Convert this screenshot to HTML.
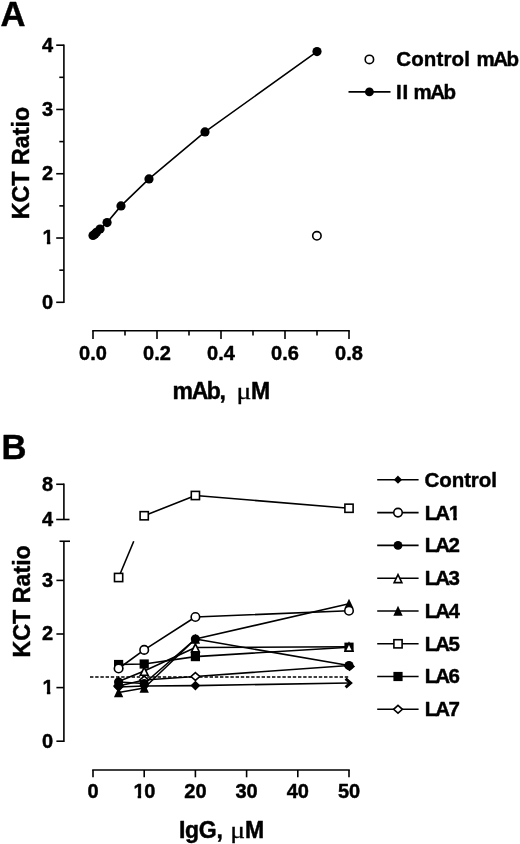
<!DOCTYPE html>
<html><head><meta charset="utf-8"><title>Figure</title>
<style>html,body{margin:0;padding:0;background:#fff}svg{display:block}</style></head>
<body><svg width="520" height="844" viewBox="0 0 520 844">
<rect width="520" height="844" fill="#fff"/>
<text x="0.6" y="25.6" font-size="34.6" text-anchor="start" font-family="Liberation Sans, sans-serif" font-weight="bold" stroke="#000" stroke-width="0.45" stroke-linejoin="round" >A</text>
<line x1="63.90" y1="44.38" x2="63.90" y2="303.10" stroke="#000" stroke-width="1.6" />
<line x1="56.20" y1="302.30" x2="63.90" y2="302.30" stroke="#000" stroke-width="1.6" />
<text x="53.2" y="308.7" font-size="20" text-anchor="end" font-family="Liberation Sans, sans-serif" font-weight="bold" stroke="#000" stroke-width="0.45" stroke-linejoin="round" >0</text>
<line x1="56.20" y1="238.02" x2="63.90" y2="238.02" stroke="#000" stroke-width="1.6" />
<clipPath id="c1"><polygon points="40.58,224.42 56.58,224.42 56.58,241.04 50.33,241.04 50.33,246.42 46.89,246.42 46.89,241.04 40.58,241.04"/></clipPath>
<text x="42.58" y="244.42" font-size="20" font-family="Liberation Sans, sans-serif" font-weight="bold" stroke="#000" stroke-width="0.45" stroke-linejoin="round" clip-path="url(#c1)" >1</text>
<line x1="56.20" y1="173.74" x2="63.90" y2="173.74" stroke="#000" stroke-width="1.6" />
<text x="53.2" y="180.14000000000001" font-size="20" text-anchor="end" font-family="Liberation Sans, sans-serif" font-weight="bold" stroke="#000" stroke-width="0.45" stroke-linejoin="round" >2</text>
<line x1="56.20" y1="109.46" x2="63.90" y2="109.46" stroke="#000" stroke-width="1.6" />
<text x="53.2" y="115.86000000000001" font-size="20" text-anchor="end" font-family="Liberation Sans, sans-serif" font-weight="bold" stroke="#000" stroke-width="0.45" stroke-linejoin="round" >3</text>
<line x1="56.20" y1="45.18" x2="63.90" y2="45.18" stroke="#000" stroke-width="1.6" />
<text x="53.2" y="51.580000000000005" font-size="20" text-anchor="end" font-family="Liberation Sans, sans-serif" font-weight="bold" stroke="#000" stroke-width="0.45" stroke-linejoin="round" >4</text>
<line x1="59.30" y1="270.16" x2="63.90" y2="270.16" stroke="#000" stroke-width="1.6" />
<line x1="59.30" y1="205.88" x2="63.90" y2="205.88" stroke="#000" stroke-width="1.6" />
<line x1="59.30" y1="141.60" x2="63.90" y2="141.60" stroke="#000" stroke-width="1.6" />
<line x1="59.30" y1="77.32" x2="63.90" y2="77.32" stroke="#000" stroke-width="1.6" />
<line x1="92.20" y1="330.80" x2="349.80" y2="330.80" stroke="#000" stroke-width="1.6" />
<line x1="93.00" y1="330.80" x2="93.00" y2="339.00" stroke="#000" stroke-width="1.6" />
<text x="93.0" y="360" font-size="20" text-anchor="middle" font-family="Liberation Sans, sans-serif" font-weight="bold" stroke="#000" stroke-width="0.45" stroke-linejoin="round" >0.0</text>
<line x1="125.00" y1="330.80" x2="125.00" y2="335.60" stroke="#000" stroke-width="1.6" />
<line x1="157.00" y1="330.80" x2="157.00" y2="339.00" stroke="#000" stroke-width="1.6" />
<text x="157.0" y="360" font-size="20" text-anchor="middle" font-family="Liberation Sans, sans-serif" font-weight="bold" stroke="#000" stroke-width="0.45" stroke-linejoin="round" >0.2</text>
<line x1="189.00" y1="330.80" x2="189.00" y2="335.60" stroke="#000" stroke-width="1.6" />
<line x1="221.00" y1="330.80" x2="221.00" y2="339.00" stroke="#000" stroke-width="1.6" />
<text x="221.0" y="360" font-size="20" text-anchor="middle" font-family="Liberation Sans, sans-serif" font-weight="bold" stroke="#000" stroke-width="0.45" stroke-linejoin="round" >0.4</text>
<line x1="253.00" y1="330.80" x2="253.00" y2="335.60" stroke="#000" stroke-width="1.6" />
<line x1="285.00" y1="330.80" x2="285.00" y2="339.00" stroke="#000" stroke-width="1.6" />
<text x="285.0" y="360" font-size="20" text-anchor="middle" font-family="Liberation Sans, sans-serif" font-weight="bold" stroke="#000" stroke-width="0.45" stroke-linejoin="round" >0.6</text>
<line x1="317.00" y1="330.80" x2="317.00" y2="335.60" stroke="#000" stroke-width="1.6" />
<line x1="349.00" y1="330.80" x2="349.00" y2="339.00" stroke="#000" stroke-width="1.6" />
<text x="349.0" y="360" font-size="20" text-anchor="middle" font-family="Liberation Sans, sans-serif" font-weight="bold" stroke="#000" stroke-width="0.45" stroke-linejoin="round" >0.8</text>
<text transform="translate(29.4,219.3) rotate(-90) scale(0.97,1)" font-size="24" font-family="Liberation Sans, sans-serif" font-weight="bold" stroke="#000" stroke-width="0.45" stroke-linejoin="round">KCT Ratio</text>
<text x="172.6" y="399" font-size="23" text-anchor="start" font-family="Liberation Sans, sans-serif" font-weight="bold" stroke="#000" stroke-width="0.45" stroke-linejoin="round" letter-spacing="-1.4">mAb,</text>
<text transform="translate(236.4,398.8) scale(1.2,1)" font-size="23" font-family="Liberation Serif, serif" stroke="#000" stroke-width="0.3">μ</text>
<text x="251" y="399" font-size="23" text-anchor="start" font-family="Liberation Sans, sans-serif" font-weight="bold" stroke="#000" stroke-width="0.45" stroke-linejoin="round" >M</text>
<polyline fill="none" stroke="#000" stroke-width="1.6" stroke-linejoin="round" points="93.00,235.45 94.76,234.16 96.52,232.23 100.04,229.02 107.08,222.59 121.00,205.88 149.00,178.88 205.00,131.96 317.00,51.61"/>
<circle cx="93.00" cy="235.45" r="4.60" fill="#000"/>
<circle cx="94.76" cy="234.16" r="4.60" fill="#000"/>
<circle cx="96.52" cy="232.23" r="4.60" fill="#000"/>
<circle cx="100.04" cy="229.02" r="4.60" fill="#000"/>
<circle cx="107.08" cy="222.59" r="4.60" fill="#000"/>
<circle cx="121.00" cy="205.88" r="4.60" fill="#000"/>
<circle cx="149.00" cy="178.88" r="4.60" fill="#000"/>
<circle cx="205.00" cy="131.96" r="4.60" fill="#000"/>
<circle cx="317.00" cy="51.61" r="4.60" fill="#000"/>
<circle cx="316.90" cy="235.80" r="4.20" fill="#fff" stroke="#000" stroke-width="1.6"/>
<circle cx="369.40" cy="59.40" r="4.20" fill="#fff" stroke="#000" stroke-width="1.6"/>
<text x="396.2" y="65.8" font-size="20.5" text-anchor="start" font-family="Liberation Sans, sans-serif" font-weight="bold" stroke="#000" stroke-width="0.45" stroke-linejoin="round" letter-spacing="0.15">Control</text>
<text x="476.6" y="65.8" font-size="20.5" text-anchor="start" font-family="Liberation Sans, sans-serif" font-weight="bold" stroke="#000" stroke-width="0.45" stroke-linejoin="round" letter-spacing="-1.6">mAb</text>
<line x1="348.50" y1="91.90" x2="390.50" y2="91.90" stroke="#000" stroke-width="1.6" />
<circle cx="369.40" cy="91.90" r="4.40" fill="#000"/>
<text x="396.0" y="98.8" font-size="20.5" text-anchor="start" font-family="Liberation Sans, sans-serif" font-weight="bold" stroke="#000" stroke-width="0.45" stroke-linejoin="round" letter-spacing="0.9">II</text>
<text x="413.6" y="98.8" font-size="20.5" text-anchor="start" font-family="Liberation Sans, sans-serif" font-weight="bold" stroke="#000" stroke-width="0.45" stroke-linejoin="round" letter-spacing="-1.6">mAb</text>
<text x="1.4" y="459.0" font-size="34.6" text-anchor="start" font-family="Liberation Sans, sans-serif" font-weight="bold" stroke="#000" stroke-width="0.45" stroke-linejoin="round" >B</text>
<line x1="63.90" y1="541.25" x2="63.90" y2="742.00" stroke="#000" stroke-width="1.6" />
<line x1="59.50" y1="541.25" x2="70.00" y2="541.25" stroke="#000" stroke-width="1.6" />
<line x1="56.40" y1="741.20" x2="63.90" y2="741.20" stroke="#000" stroke-width="1.6" />
<text x="53.2" y="747.6" font-size="20" text-anchor="end" font-family="Liberation Sans, sans-serif" font-weight="bold" stroke="#000" stroke-width="0.45" stroke-linejoin="round" >0</text>
<line x1="56.40" y1="687.60" x2="63.90" y2="687.60" stroke="#000" stroke-width="1.6" />
<clipPath id="c2"><polygon points="40.58,674.00 56.58,674.00 56.58,690.62 50.33,690.62 50.33,696.00 46.89,696.00 46.89,690.62 40.58,690.62"/></clipPath>
<text x="42.58" y="694.00" font-size="20" font-family="Liberation Sans, sans-serif" font-weight="bold" stroke="#000" stroke-width="0.45" stroke-linejoin="round" clip-path="url(#c2)" >1</text>
<line x1="56.40" y1="634.00" x2="63.90" y2="634.00" stroke="#000" stroke-width="1.6" />
<text x="53.2" y="640.4" font-size="20" text-anchor="end" font-family="Liberation Sans, sans-serif" font-weight="bold" stroke="#000" stroke-width="0.45" stroke-linejoin="round" >2</text>
<line x1="56.40" y1="580.40" x2="63.90" y2="580.40" stroke="#000" stroke-width="1.6" />
<text x="53.2" y="586.8000000000001" font-size="20" text-anchor="end" font-family="Liberation Sans, sans-serif" font-weight="bold" stroke="#000" stroke-width="0.45" stroke-linejoin="round" >3</text>
<line x1="63.90" y1="483.46" x2="63.90" y2="519.50" stroke="#000" stroke-width="1.6" />
<line x1="56.20" y1="484.26" x2="63.90" y2="484.26" stroke="#000" stroke-width="1.6" />
<line x1="56.20" y1="519.50" x2="69.50" y2="519.50" stroke="#000" stroke-width="1.6" />
<text x="53.2" y="490.65999999999997" font-size="20" text-anchor="end" font-family="Liberation Sans, sans-serif" font-weight="bold" stroke="#000" stroke-width="0.45" stroke-linejoin="round" >8</text>
<text x="53.2" y="525.9" font-size="20" text-anchor="end" font-family="Liberation Sans, sans-serif" font-weight="bold" stroke="#000" stroke-width="0.45" stroke-linejoin="round" >4</text>
<line x1="92.20" y1="770.00" x2="349.80" y2="770.00" stroke="#000" stroke-width="1.6" />
<line x1="93.00" y1="770.00" x2="93.00" y2="777.30" stroke="#000" stroke-width="1.6" />
<text x="93.0" y="798" font-size="20" text-anchor="middle" font-family="Liberation Sans, sans-serif" font-weight="bold" stroke="#000" stroke-width="0.45" stroke-linejoin="round" >0</text>
<line x1="144.20" y1="770.00" x2="144.20" y2="777.30" stroke="#000" stroke-width="1.6" />
<clipPath id="c3"><polygon points="131.38,778.00 147.38,778.00 147.38,794.62 141.13,794.62 141.13,800.00 137.69,800.00 137.69,794.62 131.38,794.62"/></clipPath>
<text x="133.38" y="798.00" font-size="20" font-family="Liberation Sans, sans-serif" font-weight="bold" stroke="#000" stroke-width="0.45" stroke-linejoin="round" clip-path="url(#c3)" >1</text>
<text x="144.29999999999998" y="798" font-size="20" text-anchor="start" font-family="Liberation Sans, sans-serif" font-weight="bold" stroke="#000" stroke-width="0.45" stroke-linejoin="round" >0</text>
<line x1="195.40" y1="770.00" x2="195.40" y2="777.30" stroke="#000" stroke-width="1.6" />
<text x="195.4" y="798" font-size="20" text-anchor="middle" font-family="Liberation Sans, sans-serif" font-weight="bold" stroke="#000" stroke-width="0.45" stroke-linejoin="round" >20</text>
<line x1="246.60" y1="770.00" x2="246.60" y2="777.30" stroke="#000" stroke-width="1.6" />
<text x="246.6" y="798" font-size="20" text-anchor="middle" font-family="Liberation Sans, sans-serif" font-weight="bold" stroke="#000" stroke-width="0.45" stroke-linejoin="round" >30</text>
<line x1="297.80" y1="770.00" x2="297.80" y2="777.30" stroke="#000" stroke-width="1.6" />
<text x="297.8" y="798" font-size="20" text-anchor="middle" font-family="Liberation Sans, sans-serif" font-weight="bold" stroke="#000" stroke-width="0.45" stroke-linejoin="round" >40</text>
<line x1="349.00" y1="770.00" x2="349.00" y2="777.30" stroke="#000" stroke-width="1.6" />
<text x="349.0" y="798" font-size="20" text-anchor="middle" font-family="Liberation Sans, sans-serif" font-weight="bold" stroke="#000" stroke-width="0.45" stroke-linejoin="round" >50</text>
<text transform="translate(29.6,657.6) rotate(-90) scale(0.97,1)" font-size="24" font-family="Liberation Sans, sans-serif" font-weight="bold" stroke="#000" stroke-width="0.45" stroke-linejoin="round">KCT Ratio</text>
<text x="179" y="837.8" font-size="23" text-anchor="start" font-family="Liberation Sans, sans-serif" font-weight="bold" stroke="#000" stroke-width="0.45" stroke-linejoin="round" letter-spacing="-0.3">IgG,</text>
<text transform="translate(230.2,837.6) scale(1.2,1)" font-size="23" font-family="Liberation Serif, serif" stroke="#000" stroke-width="0.3">μ</text>
<text x="245" y="837.8" font-size="23" text-anchor="start" font-family="Liberation Sans, sans-serif" font-weight="bold" stroke="#000" stroke-width="0.45" stroke-linejoin="round" >M</text>
<line x1="90.00" y1="677.00" x2="349.00" y2="677.00" stroke="#000" stroke-width="1.6" stroke-dasharray="3.4 1.8"/>
<polyline fill="none" stroke="#000" stroke-width="1.6" stroke-linejoin="round" points="118.60,686.00 144.20,680.00 195.40,676.50 349.00,665.50"/>
<polygon points="118.60,682.10 123.00,686.00 118.60,689.90 114.20,686.00" fill="#fff" stroke="#000" stroke-width="1.6" stroke-linejoin="miter"/>
<polygon points="144.20,676.10 148.60,680.00 144.20,683.90 139.80,680.00" fill="#fff" stroke="#000" stroke-width="1.6" stroke-linejoin="miter"/>
<polygon points="195.40,672.60 199.80,676.50 195.40,680.40 191.00,676.50" fill="#fff" stroke="#000" stroke-width="1.6" stroke-linejoin="miter"/>
<polygon points="349.50,662.50 353.90,666.40 349.50,670.30 345.10,666.40" fill="#fff" stroke="#000" stroke-width="1.6" stroke-linejoin="miter"/>
<polyline fill="none" stroke="#000" stroke-width="1.6" stroke-linejoin="round" points="118.60,664.50 144.20,664.00 195.40,656.60 349.00,647.20"/>
<rect x="114.00" y="659.90" width="9.20" height="9.20" fill="#000"/>
<rect x="139.60" y="659.40" width="9.20" height="9.20" fill="#000"/>
<rect x="190.80" y="652.00" width="9.20" height="9.20" fill="#000"/>
<rect x="344.40" y="642.60" width="9.20" height="9.20" fill="#000"/>
<line x1="118.60" y1="577.50" x2="133.75" y2="541.25" stroke="#000" stroke-width="1.6" />
<polyline fill="none" stroke="#000" stroke-width="1.6" stroke-linejoin="round" points="144.20,515.75 195.40,495.50 349.00,508.25"/>
<rect x="114.50" y="573.40" width="8.20" height="8.20" fill="#fff" stroke="#000" stroke-width="1.6"/>
<rect x="140.10" y="511.65" width="8.20" height="8.20" fill="#fff" stroke="#000" stroke-width="1.6"/>
<rect x="191.30" y="491.40" width="8.20" height="8.20" fill="#fff" stroke="#000" stroke-width="1.6"/>
<rect x="344.90" y="504.15" width="8.20" height="8.20" fill="#fff" stroke="#000" stroke-width="1.6"/>
<polyline fill="none" stroke="#000" stroke-width="1.6" stroke-linejoin="round" points="118.60,692.50 144.20,688.00 195.40,639.00 349.00,603.80"/>
<polygon points="118.60,689.20 122.00,696.40 115.20,696.40" fill="#000" stroke="#000" stroke-width="1.6" stroke-linejoin="miter"/>
<polygon points="144.20,684.70 147.60,691.90 140.80,691.90" fill="#000" stroke="#000" stroke-width="1.6" stroke-linejoin="miter"/>
<polygon points="195.40,635.70 198.80,642.90 192.00,642.90" fill="#000" stroke="#000" stroke-width="1.6" stroke-linejoin="miter"/>
<polygon points="349.00,600.50 352.40,607.70 345.60,607.70" fill="#000" stroke="#000" stroke-width="1.6" stroke-linejoin="miter"/>
<polyline fill="none" stroke="#000" stroke-width="1.6" stroke-linejoin="round" points="118.60,681.50 144.20,671.00 195.40,647.50 349.00,646.80"/>
<polygon points="118.60,677.80 122.50,685.80 114.70,685.80" fill="#fff" stroke="#000" stroke-width="1.6" stroke-linejoin="miter"/>
<polygon points="144.20,667.30 148.10,675.30 140.30,675.30" fill="#fff" stroke="#000" stroke-width="1.6" stroke-linejoin="miter"/>
<polygon points="195.40,643.80 199.30,651.80 191.50,651.80" fill="#fff" stroke="#000" stroke-width="1.6" stroke-linejoin="miter"/>
<polygon points="349.00,643.10 352.90,651.10 345.10,651.10" fill="#fff" stroke="#000" stroke-width="1.6" stroke-linejoin="miter"/>
<polyline fill="none" stroke="#000" stroke-width="1.6" stroke-linejoin="round" points="118.60,682.00 144.20,683.50 195.40,639.00 349.00,665.50"/>
<circle cx="118.60" cy="682.00" r="4.60" fill="#000"/>
<circle cx="144.20" cy="683.50" r="4.60" fill="#000"/>
<circle cx="195.40" cy="639.00" r="4.60" fill="#000"/>
<circle cx="349.00" cy="665.50" r="4.60" fill="#000"/>
<polyline fill="none" stroke="#000" stroke-width="1.6" stroke-linejoin="round" points="118.60,668.50 144.20,649.90 195.40,617.00 349.00,610.80"/>
<circle cx="118.60" cy="668.50" r="4.25" fill="#fff" stroke="#000" stroke-width="1.6"/>
<circle cx="144.20" cy="649.90" r="4.25" fill="#fff" stroke="#000" stroke-width="1.6"/>
<circle cx="195.40" cy="617.00" r="4.25" fill="#fff" stroke="#000" stroke-width="1.6"/>
<circle cx="349.00" cy="610.80" r="4.25" fill="#fff" stroke="#000" stroke-width="1.6"/>
<polyline fill="none" stroke="#000" stroke-width="1.6" stroke-linejoin="round" points="118.60,687.00 144.20,686.00 195.40,685.60 349.00,683.00"/>
<polygon points="118.60,683.20 122.40,687.00 118.60,690.80 114.80,687.00" fill="#000" stroke="#000" stroke-width="1.6" stroke-linejoin="miter"/>
<polygon points="144.20,682.20 148.00,686.00 144.20,689.80 140.40,686.00" fill="#000" stroke="#000" stroke-width="1.6" stroke-linejoin="miter"/>
<polygon points="195.40,681.80 199.20,685.60 195.40,689.40 191.60,685.60" fill="#000" stroke="#000" stroke-width="1.6" stroke-linejoin="miter"/>
<polyline fill="none" stroke="#000" stroke-width="3.0" stroke-linejoin="miter" points="345.60,678.60 350.60,683.00 345.60,687.40"/>
<line x1="377.20" y1="479.70" x2="418.60" y2="479.70" stroke="#000" stroke-width="1.6" />
<polygon points="398.00,476.70 401.00,479.70 398.00,482.70 395.00,479.70" fill="#000" stroke="#000" stroke-width="1.6" stroke-linejoin="miter"/>
<text x="424.6" y="486.59999999999997" font-size="20.5" text-anchor="start" font-family="Liberation Sans, sans-serif" font-weight="bold" stroke="#000" stroke-width="0.45" stroke-linejoin="round" letter-spacing="-0.1">Control</text>
<line x1="377.20" y1="512.60" x2="418.60" y2="512.60" stroke="#000" stroke-width="1.6" />
<circle cx="398.00" cy="512.60" r="4.25" fill="#fff" stroke="#000" stroke-width="1.6"/>
<text x="424.8" y="519.5" font-size="20.5" text-anchor="start" font-family="Liberation Sans, sans-serif" font-weight="bold" stroke="#000" stroke-width="0.45" stroke-linejoin="round" dx="0 -2.0">LA</text>
<clipPath id="c4"><polygon points="446.83,499.00 463.18,499.00 463.18,516.07 456.76,516.07 456.76,521.50 453.25,521.50 453.25,516.07 446.83,516.07"/></clipPath>
<text x="448.83" y="519.50" font-size="20.5" font-family="Liberation Sans, sans-serif" font-weight="bold" stroke="#000" stroke-width="0.45" stroke-linejoin="round" clip-path="url(#c4)" >1</text>
<line x1="377.20" y1="545.40" x2="418.60" y2="545.40" stroke="#000" stroke-width="1.6" />
<circle cx="398.00" cy="545.40" r="4.40" fill="#000"/>
<text x="424.8" y="552.3" font-size="20.5" text-anchor="start" font-family="Liberation Sans, sans-serif" font-weight="bold" stroke="#000" stroke-width="0.45" stroke-linejoin="round" dx="0 -2.0 -1.6">LA2</text>
<line x1="377.20" y1="578.30" x2="418.60" y2="578.30" stroke="#000" stroke-width="1.6" />
<polygon points="398.00,574.60 401.90,582.60 394.10,582.60" fill="#fff" stroke="#000" stroke-width="1.6" stroke-linejoin="miter"/>
<text x="424.8" y="585.1999999999999" font-size="20.5" text-anchor="start" font-family="Liberation Sans, sans-serif" font-weight="bold" stroke="#000" stroke-width="0.45" stroke-linejoin="round" dx="0 -2.0 -1.6">LA3</text>
<line x1="377.20" y1="611.00" x2="418.60" y2="611.00" stroke="#000" stroke-width="1.6" />
<polygon points="398.00,607.70 401.40,614.90 394.60,614.90" fill="#000" stroke="#000" stroke-width="1.6" stroke-linejoin="miter"/>
<text x="424.8" y="617.9" font-size="20.5" text-anchor="start" font-family="Liberation Sans, sans-serif" font-weight="bold" stroke="#000" stroke-width="0.45" stroke-linejoin="round" dx="0 -2.0 -1.6">LA4</text>
<line x1="377.20" y1="643.80" x2="418.60" y2="643.80" stroke="#000" stroke-width="1.6" />
<rect x="393.90" y="639.70" width="8.20" height="8.20" fill="#fff" stroke="#000" stroke-width="1.6"/>
<text x="424.8" y="650.6999999999999" font-size="20.5" text-anchor="start" font-family="Liberation Sans, sans-serif" font-weight="bold" stroke="#000" stroke-width="0.45" stroke-linejoin="round" dx="0 -2.0 -1.6">LA5</text>
<line x1="377.20" y1="676.50" x2="418.60" y2="676.50" stroke="#000" stroke-width="1.6" />
<rect x="393.40" y="671.90" width="9.20" height="9.20" fill="#000"/>
<text x="424.8" y="683.4" font-size="20.5" text-anchor="start" font-family="Liberation Sans, sans-serif" font-weight="bold" stroke="#000" stroke-width="0.45" stroke-linejoin="round" dx="0 -2.0 -1.6">LA6</text>
<line x1="377.20" y1="709.30" x2="418.60" y2="709.30" stroke="#000" stroke-width="1.6" />
<polygon points="398.00,705.40 402.40,709.30 398.00,713.20 393.60,709.30" fill="#fff" stroke="#000" stroke-width="1.6" stroke-linejoin="miter"/>
<text x="424.8" y="716.1999999999999" font-size="20.5" text-anchor="start" font-family="Liberation Sans, sans-serif" font-weight="bold" stroke="#000" stroke-width="0.45" stroke-linejoin="round" dx="0 -2.0 -1.6">LA7</text>
</svg></body></html>
